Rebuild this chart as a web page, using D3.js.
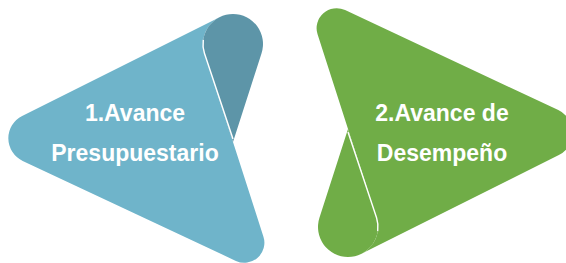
<!DOCTYPE html>
<html>
<head>
<meta charset="utf-8">
<script src="https://cdn.jsdelivr.net/npm/d3@7"></script>
<style>
  html, body { margin: 0; padding: 0; background: #fff; }
  svg { display: block; }
</style>
</head>
<body>
<div id="chart"></div>
<script>
// two steps of the diagram
var steps = ["1", "2"];
var labelLines = [["1.Avance", "Presupuestario"], ["2.Avance de", "Desempeño"]];
var bodyColors = ["#6fb4ca", "#70ad47"];
var foldColors = ["#5d95a8", "#70ad47"];

var width = 566, height = 263;
var cx = 290.5, cy = 135.5;   // second shape = first one turned 180deg round this point

var svg = d3.select("#chart").append("svg")
    .attr("width", width).attr("height", height);

var color = d3.scaleOrdinal().domain(steps).range(bodyColors);
var foldColor = d3.scaleOrdinal().domain(steps).range(foldColors);
var turn = d3.scaleOrdinal().domain(steps).range([0, 180]);
var textX = d3.scalePoint().domain(steps).range([135, 442]);
var textY = d3.scalePoint().domain([0, 1]).range([121, 161]);

// geometry of the first shape
var O = { x: 233, y: 44 }, R = 30;   // round top of the fold
var P = { x: 233, y: 142 };          // point of the fold
var T = { x: -24, y: 139 };          // left tip
var bottomSlope = 0.469;

function tangents(E) {
  var dx = E.x - O.x, dy = E.y - O.y, d = Math.hypot(dx, dy);
  var base = Math.atan2(dy, dx), a = Math.acos(R / d);
  return [base + a, base - a];
}
function onCircle(ang) { return { x: O.x + R * Math.cos(ang), y: O.y + R * Math.sin(ang) }; }

var pt = tangents(P);           // [left, right]
var aLeft = pt[0], aRight = pt[1] + 2 * Math.PI;
var Q2 = onCircle(aLeft);
var aTop = tangents(T)[0];      // upper tangent from the tip
var Q1 = onCircle(aTop);

// bottom right corner: right edge (Q2 -> P) meets bottom edge from T
var ux = P.x - Q2.x, uy = P.y - Q2.y;
var vx = 1, vy = bottomSlope;
var det = ux * (-vy) - uy * (-vx);
var s = ((T.x - Q2.x) * (-vy) - (T.y - Q2.y) * (-vx)) / det;
var C = { x: Q2.x + s * ux, y: Q2.y + s * uy };

function bodyPath() {
  var p = d3.path();
  p.moveTo(Q1.x, Q1.y);
  p.arc(O.x, O.y, R, aTop, aLeft, true);
  p.arcTo(C.x, C.y, T.x, T.y, 20);
  p.arcTo(T.x, T.y, Q1.x, Q1.y, 25);
  p.closePath();
  return p.toString();
}
function foldPath() {
  var p = d3.path();
  p.moveTo(P.x, P.y);
  p.lineTo(Q2.x, Q2.y);
  p.arc(O.x, O.y, R, aLeft, aRight, false);
  p.closePath();
  return p.toString();
}
function seamPath() {
  var p = d3.path();
  p.moveTo(P.x, P.y - 3);
  p.lineTo(Q2.x, Q2.y);
  p.arc(O.x, O.y, R, aLeft, aLeft + 0.45, false);
  return p.toString();
}

var shape = svg.selectAll("g.step")
  .data(steps)
  .enter().append("g")
    .attr("class", "step")
    .attr("transform", function(d) { return "rotate(" + turn(d) + "," + cx + "," + cy + ")"; });

shape.append("path").attr("d", bodyPath()).attr("fill", function(d) { return color(d); });
shape.append("path").attr("d", foldPath()).attr("fill", function(d) { return foldColor(d); });
shape.append("path").attr("d", seamPath())
    .attr("fill", "none").attr("stroke", "#fff").attr("stroke-width", 1.4);

var label = svg.selectAll("text.label")
  .data(steps)
  .enter().append("text")
    .attr("class", "label")
    .attr("text-anchor", "middle")
    .attr("fill", "#fff")
    .style("font-family", "'Liberation Sans', Arial, sans-serif")
    .style("font-weight", "bold")
    .style("font-size", "23px");

label.each(function(d, i) {
  var t = d3.select(this);
  labelLines[i].forEach(function(line, j) {
    t.append("tspan")
      .attr("x", textX(d))
      .attr("y", textY(j))
      .text(line);
  });
});
</script>
</body>
</html>
